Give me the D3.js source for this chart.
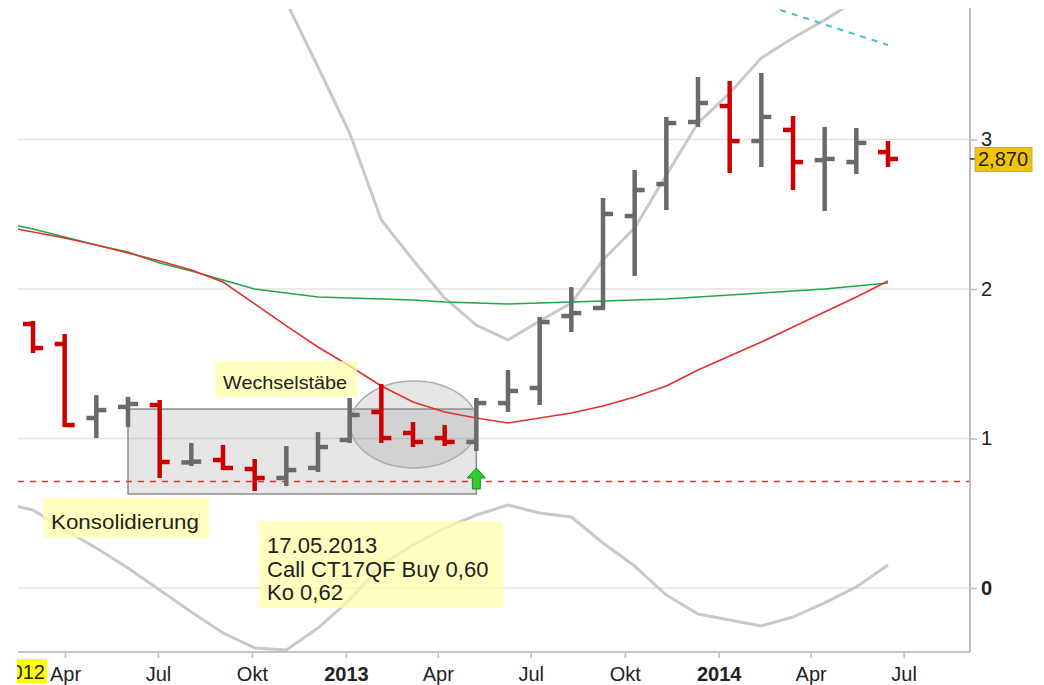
<!DOCTYPE html>
<html>
<head>
<meta charset="utf-8">
<script src="https://cdn.jsdelivr.net/npm/d3@7"></script>
<style>
  html, body { margin: 0; padding: 0; background: #fff; }
  #chart svg { display: block; font-family: "Liberation Sans", Arial, sans-serif; }
</style>
</head>
<body>
<div id="chart"></div>
<script>
// monthly bars, index 0 = Feb 2012
const months = ["2012-02","2012-03","2012-04","2012-05","2012-06","2012-07","2012-08","2012-09","2012-10","2012-11","2012-12",
  "2013-01","2013-02","2013-03","2013-04","2013-05","2013-06","2013-07","2013-08","2013-09","2013-10","2013-11","2013-12",
  "2014-01","2014-02","2014-03","2014-04","2014-05","2014-06"];

const open  = [null,1.766,1.632,1.137,1.211,1.224,0.840,0.856,0.796,0.736,0.803,0.990,1.177,1.037,1.003,0.977,1.237,1.338,1.819,1.873,2.488,2.702,3.117,3.224,2.990,3.064,2.862,2.849,2.916];
const high  = [null,1.786,1.699,1.290,1.278,1.258,0.970,0.957,0.863,0.950,1.043,1.271,1.365,1.110,1.090,1.271,1.458,1.813,2.013,2.609,2.796,3.151,3.418,3.391,3.445,3.157,3.084,3.077,2.990];
const low   = [null,1.572,1.077,1.003,1.077,0.736,0.816,0.789,0.649,0.682,0.776,0.970,0.970,0.943,0.950,0.916,1.177,1.224,1.712,1.860,2.087,2.528,3.084,2.776,2.816,2.662,2.522,2.769,2.816];
const close = [null,1.605,1.090,1.190,1.231,0.843,0.845,0.803,0.736,0.789,0.943,1.157,1.003,0.977,0.977,1.237,1.318,1.779,1.839,2.502,2.662,3.110,3.244,2.990,3.151,2.849,2.870,2.977,2.870];

// moving averages and bands
const maGreen = [2.448,2.401,2.348,2.294,2.247,2.174,2.120,2.060,2.000,1.973,1.946,1.940,1.933,1.926,1.913,1.906,1.900,1.906,1.913,1.920,1.926,1.933,1.946,1.960,1.973,1.987,2.000,2.020,2.040];
const maRed   = [2.421,2.381,2.341,2.294,2.241,2.187,2.127,2.047,1.900,1.753,1.612,1.485,1.351,1.244,1.177,1.137,1.104,1.137,1.171,1.217,1.278,1.351,1.458,1.552,1.645,1.746,1.846,1.946,2.054];
const bandUpper = [null,null,null,null,null,null,null,null,4.334,3.920,3.485,3.043,2.462,2.194,1.940,1.759,1.659,1.786,1.906,2.194,2.408,2.763,3.110,3.311,3.545,3.679,3.799,3.933,4.050];
const bandLower = [0.569,0.522,0.388,0.268,0.134,-0.013,-0.161,-0.301,-0.401,-0.415,-0.268,-0.080,0.154,0.288,0.401,0.488,0.555,0.502,0.475,0.301,0.147,-0.047,-0.174,-0.214,-0.254,-0.194,-0.100,0.007,0.154];

const yTicks = [0, 1, 2, 3];
const lastPrice = 2.870;
const koLevel = 0.712;
const monthNames = ["Jan","Feb","Mär","Apr","Mai","Jun","Jul","Aug","Sep","Okt","Nov","Dez"];

// annotations in chart units (month index, value)
const consolRange = {k0: 4, k1: 15, v0: 0.629, v1: 1.197};
const ellipse = {k: 13.03, v: 1.094, dk: 2, dv: 0.291};
const buyArrow = {k: 15, v: 0.803};
const trendLine = [{k: 24.6, v: 3.866}, {k: 28, v: 3.632}];
const notes = [
  {k: 6.75, v: 1.518, w: 142, h: 36, size: 19, len: [124], base: 28, lines: ["Wechselstäbe"]},
  {k: 1.316, v: 0.602, w: 166, h: 40, size: 21, len: [148], base: 31, lines: ["Konsolidierung"]},
  {k: 8.14, v: 0.448, w: 244, h: 87, size: 22, len: [null, null, null], base: 32, lines: ["17.05.2013", "Call CT17QF Buy 0,60", "Ko 0,62"]}
];

const width = 1044, height = 685;
const plotLeft = 18, plotRight = 970, plotTop = 9, plotBottom = 652;

const svg = d3.select('#chart').append('svg')
  .attr('width', width).attr('height', height)
  .attr('viewBox', [0, 0, width, height]);

const defs = svg.append('defs');
defs.append('clipPath').attr('id', 'plot')
  .append('rect').attr('x', plotLeft).attr('y', plotTop).attr('width', plotRight - plotLeft).attr('height', plotBottom - plotTop);
defs.append('clipPath').attr('id', 'xlab')
  .append('rect').attr('x', plotLeft - 1).attr('y', plotBottom).attr('width', plotRight - plotLeft).attr('height', 40);

const y = d3.scaleLinear().domain([0, 3]).range([588, 139.5]);
const xb = d3.scaleLinear().domain([0, months.length - 1]).range([1.33, 888]);
const xt = d3.scaleTime().domain([new Date(2012, 1, 15), new Date(2014, 8, 4)]).range([plotLeft, plotRight]);

// gridlines
svg.append('g').selectAll('line').data(yTicks).join('line')
  .attr('x1', plotLeft).attr('x2', plotRight)
  .attr('y1', d => y(d)).attr('y2', d => y(d))
  .attr('stroke', '#e3e3e3').attr('stroke-width', 1.5);

const plot = svg.append('g').attr('clip-path', 'url(#plot)');

// band lines
const line = d3.line().defined(d => d[1] != null).x(d => xb(d[0])).y(d => y(d[1]));
[bandUpper, bandLower].forEach(arr => {
  plot.append('path').datum(arr.map((v, i) => [i, v]))
    .attr('fill', 'none').attr('stroke', '#c9c9c9').attr('stroke-width', 3)
    .attr('stroke-linejoin', 'round').attr('d', line);
});

// consolidation box + ellipse
plot.append('rect')
  .attr('x', xb(consolRange.k0)).attr('y', y(consolRange.v1))
  .attr('width', xb(consolRange.k1) - xb(consolRange.k0))
  .attr('height', y(consolRange.v0) - y(consolRange.v1))
  .attr('fill', 'rgba(128,128,128,0.2)').attr('stroke', '#8c8c8c').attr('stroke-width', 1.5);
plot.append('ellipse')
  .attr('cx', xb(ellipse.k)).attr('cy', y(ellipse.v))
  .attr('rx', xb(ellipse.k + ellipse.dk) - xb(ellipse.k))
  .attr('ry', y(ellipse.v - ellipse.dv) - y(ellipse.v))
  .attr('fill', 'rgba(128,128,128,0.2)').attr('stroke', '#adadad').attr('stroke-width', 1.5);

// knock-out level
plot.append('line')
  .attr('x1', plotLeft).attr('x2', plotRight).attr('y1', y(koLevel)).attr('y2', y(koLevel))
  .attr('stroke', '#e03333').attr('stroke-width', 1.5).attr('stroke-dasharray', '6,6');

// trend line
plot.append('path').datum(trendLine.map(d => [d.k, d.v]))
  .attr('fill', 'none').attr('stroke', '#45bfc4').attr('stroke-width', 2)
  .attr('stroke-dasharray', '6,6').attr('d', line);

// moving averages
plot.append('path').datum(maGreen.map((v, i) => [i, v]))
  .attr('fill', 'none').attr('stroke', '#1ea84a').attr('stroke-width', 1.6).attr('d', line);
plot.append('path').datum(maRed.map((v, i) => [i, v]))
  .attr('fill', 'none').attr('stroke', '#e53030').attr('stroke-width', 1.6).attr('d', line);

// OHLC bars
const bars = months.map((m, i) => ({i, o: open[i], h: high[i], l: low[i], c: close[i]})).filter(d => d.o != null);
const bar = plot.append('g').selectAll('g').data(bars).join('g')
  .attr('stroke', d => d.c < d.o ? '#cc0000' : '#6a6a6a')
  .attr('stroke-width', 4.5);
bar.append('line').attr('x1', d => xb(d.i)).attr('x2', d => xb(d.i))
  .attr('y1', d => y(d.h)).attr('y2', d => y(d.l));
bar.append('line').attr('x1', d => xb(d.i) - 10).attr('x2', d => xb(d.i))
  .attr('y1', d => y(d.o)).attr('y2', d => y(d.o));
bar.append('line').attr('x1', d => xb(d.i)).attr('x2', d => xb(d.i) + 10)
  .attr('y1', d => y(d.c)).attr('y2', d => y(d.c));

// buy arrow
const ax = xb(buyArrow.k), ay = y(buyArrow.v);
plot.append('path')
  .attr('d', `M${ax},${ay} l9,10 h-5 v11 h-8 v-11 h-5 z`)
  .attr('fill', '#2fcc2f').attr('stroke', '#178c17').attr('stroke-width', 1);

// note boxes
const note = svg.append('g').selectAll('g').data(notes).join('g')
  .attr('transform', d => `translate(${xb(d.k)},${y(d.v)})`);
note.append('rect').attr('width', d => d.w).attr('height', d => d.h)
  .attr('fill', '#ffffa8').attr('fill-opacity', 0.72);
note.each(function(d) {
  const g = d3.select(this);
  d.lines.forEach((t, j) => {
    const tx = g.append('text')
      .attr('x', 8).attr('y', d.base + j * 23.5)
      .attr('font-size', d.size).attr('fill', '#222').text(t);
    if (d.len[j]) tx.attr('textLength', d.len[j]).attr('lengthAdjust', 'spacingAndGlyphs');
  });
});

// axes frame
svg.append('line').attr('x1', plotRight).attr('x2', plotRight).attr('y1', 8).attr('y2', plotBottom)
  .attr('stroke', '#bdbdbd').attr('stroke-width', 2);
svg.append('line').attr('x1', plotLeft).attr('x2', plotRight).attr('y1', plotBottom).attr('y2', plotBottom)
  .attr('stroke', '#c4c4c4').attr('stroke-width', 2);

// right axis
const yAxis = svg.append('g').attr('transform', `translate(${plotRight},0)`)
  .call(d3.axisRight(y).tickValues(yTicks).tickSize(7).tickPadding(4).tickFormat(d3.format('d')));
yAxis.select('.domain').remove();
yAxis.selectAll('line').attr('stroke', '#bdbdbd').attr('stroke-width', 1.5);
yAxis.selectAll('text').attr('font-size', 20).attr('fill', '#222')
  .attr('font-weight', d => d === 0 ? 'bold' : 'normal');

// last price marker
const lp = svg.append('g').attr('transform', `translate(${plotRight},${y(lastPrice)})`);
lp.append('line').attr('x1', 0).attr('x2', 7).attr('stroke', '#333').attr('stroke-width', 1.5);
lp.append('rect').attr('x', 5).attr('y', -11.5).attr('width', 57).attr('height', 24)
  .attr('fill', '#f2c400').attr('stroke', '#b9a866');
lp.append('text').attr('x', 8).attr('y', 7.5).attr('font-size', 20).attr('fill', '#222')
  .text(d3.format('.3f')(lastPrice).replace('.', ','));

// bottom axis
const tickDates = d3.timeMonth.every(3).range(new Date(2012, 3, 1), new Date(2014, 7, 1));
const fmt = d => d.getMonth() === 0 ? String(d.getFullYear()) : monthNames[d.getMonth()];
const xAxis = svg.append('g').attr('transform', `translate(0,${plotBottom})`)
  .call(d3.axisBottom(xt).tickValues(tickDates).tickSize(6).tickPadding(9).tickFormat(fmt));
xAxis.select('.domain').remove();
xAxis.selectAll('line').attr('stroke', '#bdbdbd').attr('stroke-width', 1.5);
xAxis.selectAll('text').attr('font-size', 20).attr('fill', '#222')
  .attr('font-weight', d => d.getMonth() === 0 ? 'bold' : 'normal');

// clamped year label at the left edge
const firstYear = new Date(2012, 0, 1);
const yl = svg.append('g').attr('clip-path', 'url(#xlab)');
yl.append('rect').attr('x', plotLeft - 1).attr('y', 659).attr('width', 30).attr('height', 24).attr('fill', '#ffff00');
yl.append('text').attr('x', plotLeft + 27).attr('y', 679).attr('text-anchor', 'end')
  .attr('font-size', 20).attr('fill', '#222').text(firstYear.getFullYear());
</script>
</body>
</html>
